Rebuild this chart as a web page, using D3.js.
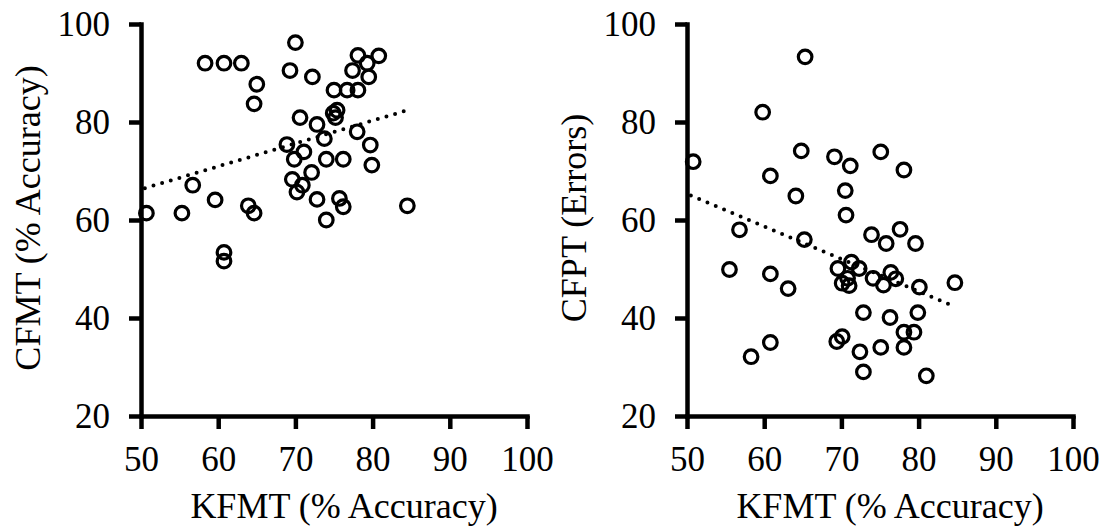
<!DOCTYPE html>
<html><head><meta charset="utf-8">
<script src="https://cdn.jsdelivr.net/npm/d3@7"></script>
<style>body{margin:0;background:#fff}svg{display:block}</style>
</head><body>
<svg id="c" width="1111" height="529"></svg>
<script>
// ---- data ----
const xTicks = [50, 60, 70, 80, 90, 100];
const yTicks = [20, 40, 60, 80, 100];
const xTitle = "KFMT (% Accuracy)";
const yTitleLeft = "CFMT (% Accuracy)";
const yTitleRight = "CFPT (Errors)";

const kfmtLeft = [70.0,58.3,60.75,63.0,69.3,72.2,65.0,64.65,78.1,80.8,79.3,77.4,79.5,75.0,76.7,78.1,75.4,74.9,75.2,70.6,72.8,78.0,73.75,79.7,68.9,71.1,69.85,74.0,76.2,79.9,72.1,69.6,70.9,70.2,56.7,59.6,72.8,75.7,76.2,63.9,64.65,50.7,55.3,74.0,84.5,60.75,60.75];
const cfmt     = [96.2,92.0,92.0,92.0,90.5,89.2,87.7,83.7,93.6,93.5,92.0,90.5,89.2,86.5,86.5,86.5,82.4,81.8,80.9,80.9,79.5,78.0,76.6,75.3,75.4,73.9,72.4,72.4,72.4,71.2,69.7,68.3,67.1,65.7,67.1,64.1,64.2,64.4,62.7,62.9,61.4,61.4,61.4,60.0,62.9,53.4,51.6];

const kfmtRight = [65.3,59.8,50.8,64.8,69.1,71.15,75.1,78.1,60.8,70.5,64.1,70.6,56.8,65.2,73.9,77.6,75.8,79.6,55.5,60.8,63.1,69.55,71.3,72.3,70.8,70.1,74.1,76.4,77.05,75.45,80.1,84.7,72.85,76.3,79.9,78.1,79.4,69.4,70.1,72.4,75.1,78.1,72.85,81.0,60.8,58.3,71.0];
const cfpt      = [93.3,82.0,71.9,74.1,72.9,71.05,73.9,70.2,69.0,66.0,64.9,61.0,58.0,56.0,57.0,58.1,55.2,55.2,49.9,49.0,46.0,50.1,51.4,50.1,48.1,47.1,48.1,49.3,48.0,46.7,46.3,47.2,41.1,40.1,41.1,37.1,37.1,35.2,36.2,33.1,34.0,34.0,29.0,28.2,35.0,32.1,46.6];

const trendLeft  = [[50.5, 66.5], [84.5, 82.4]];
const trendRight = [[50.5, 65.0], [84.7, 42.3]];

// ---- drawing ----
const svg = d3.select("#c");
const font = "'Liberation Serif', 'Times New Roman', serif";

function panel(x0, xs, ys, trend, yTitle, yTitleX) {
  const x = d3.scaleLinear().domain([50, 100]).range([x0, x0 + 386]);
  const y = d3.scaleLinear().domain([20, 100]).range([416, 24]);
  const g = svg.append("g");

  // trend line (dotted)
  g.append("line")
    .attr("x1", x(trend[0][0])).attr("y1", y(trend[0][1]))
    .attr("x2", x(trend[1][0])).attr("y2", y(trend[1][1]))
    .attr("stroke", "#000").attr("stroke-width", 4)
    .attr("stroke-linecap", "round").attr("stroke-dasharray", "0,9");

  // points
  g.selectAll("circle").data(xs.map((d, i) => [d, ys[i]])).join("circle")
    .attr("cx", d => x(d[0])).attr("cy", d => y(d[1])).attr("r", 6.8)
    .attr("fill", "none").attr("stroke", "#000").attr("stroke-width", 3.2);

  const ax = g.append("g").attr("transform", "translate(0,416)")
    .call(d3.axisBottom(x).tickValues(xTicks).tickSize(13).tickSizeOuter(0).tickPadding(17));
  const ay = g.append("g").attr("transform", `translate(${x0},0)`)
    .call(d3.axisLeft(y).tickValues(yTicks).tickSize(12).tickSizeOuter(0).tickPadding(19));
  [ax, ay].forEach(a => {
    a.select(".domain").attr("stroke-width", 4.5).attr("stroke-linecap", "square");
    a.selectAll(".tick line").attr("stroke-width", 4.5);
    a.selectAll("text").attr("font-family", font).attr("font-size", 35).attr("fill", "#000");
  });

  g.append("text").attr("x", x(75) + 10).attr("y", 518).attr("text-anchor", "middle")
    .attr("font-family", font).attr("font-size", 36).text(xTitle);
  g.append("text").attr("transform", `translate(${yTitleX},218) rotate(-90)`)
    .attr("text-anchor", "middle").attr("font-family", font).attr("font-size", 36).text(yTitle);
}

panel(141, kfmtLeft, cfmt, trendLeft, yTitleLeft, 40);
panel(687, kfmtRight, cfpt, trendRight, yTitleRight, 586);
</script>
</body></html>
